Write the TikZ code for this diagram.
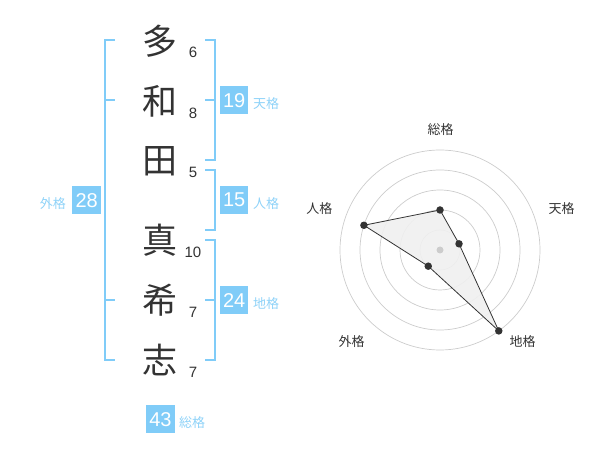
\documentclass[tikz,border=0pt]{standalone}
\usepackage{fontspec}
\setmainfont{Liberation Sans}
\newfontfamily\jp{Noto Sans CJK JP}
\definecolor{kblue}{HTML}{80CCF8}
\definecolor{klabel}{HTML}{8ED2F8}
\definecolor{kdark}{HTML}{333333}
\definecolor{kring}{HTML}{CCCCCC}
\begin{document}
\begin{tikzpicture}[x=1pt,y=-1pt,
  kanji/.style={font=\jp\fontsize{35}{35}\selectfont,text=kdark,inner sep=0pt},
  strokes/.style={font=\fontsize{15}{15}\selectfont,text=kdark,inner sep=0pt},
  scorebox/.style={fill=kblue,text=white,minimum width=28.5pt,minimum height=28.5pt,inner sep=0pt,font=\fontsize{20}{20}\selectfont},
  scorelabel/.style={font=\jp\fontsize{13}{13}\selectfont,text=klabel,inner sep=0pt},
  bracket/.style={draw=kblue,line width=2pt},
  ring/.style={draw=kring,line width=0.7pt},
  radarlabel/.style={font=\jp\fontsize{13}{13}\selectfont,text=kdark,inner sep=0pt},
  dot/.style={circle,fill=kdark,inner sep=0pt,minimum size=7.5pt}]
\useasboundingbox (0,0) rectangle (600,470);
% name characters
\node[kanji] (c1) at (160,41) {多};
\node[kanji] (c2) at (160,101) {和};
\node[kanji] (c3) at (160,161) {田};
\node[kanji] (c4) at (160,240) {真};
\node[kanji] (c5) at (160,300) {希};
\node[kanji] (c6) at (160,360) {志};
% stroke counts
\node[strokes] (s1) at (193,52.5) {6};
\node[strokes] (s2) at (193,113) {8};
\node[strokes] (s3) at (193,172.5) {5};
\node[strokes] (s4) at (193,252.5) {10};
\node[strokes] (s5) at (193,312.5) {7};
\node[strokes] (s6) at (193,372.5) {7};
% right brackets
\draw[bracket] (205,40) -- (215,40) -- (215,160) -- (205,160);
\draw[bracket] (205,100) -- (215,100);
\draw[bracket] (205,170) -- (215,170) -- (215,230) -- (205,230);
\draw[bracket] (205,240) -- (215,240) -- (215,360) -- (205,360);
\draw[bracket] (205,300) -- (215,300);
% left bracket
\draw[bracket] (115,40) -- (105,40) -- (105,360) -- (115,360);
\draw[bracket] (105,100) -- (115,100);
\draw[bracket] (105,300) -- (115,300);
% score boxes
\node[scorebox] (ten) at (234.2,100.2) {19};
\node[scorelabel,anchor=west] (tenl) at (253,104) {天格};
\node[scorebox] (jin) at (234.2,200.2) {15};
\node[scorelabel,anchor=west] (jinl) at (253,204) {人格};
\node[scorebox] (chi) at (234.2,300.2) {24};
\node[scorelabel,anchor=west] (chil) at (253,304) {地格};
\node[scorebox] (gai) at (86.7,200.2) {28};
\node[scorelabel,anchor=east] (gail) at (66,204) {外格};
\node[scorebox] (sou) at (160.5,419.2) {43};
\node[scorelabel,anchor=west] (soul) at (179,422.5) {総格};
% radar
\coordinate (o) at (440,250);
\foreach \r in {20,40,60,80,100} \draw[ring] (o) circle[radius=\r];
\coordinate (p1) at ([shift={(440,250)}] -90:40);
\coordinate (p2) at ([shift={(440,250)}] -18:20);
\coordinate (p3) at ([shift={(440,250)}] 54:100);
\coordinate (p4) at ([shift={(440,250)}] 126:20);
\coordinate (p5) at ([shift={(440,250)}] 198:80);
\filldraw[fill=black!6,fill opacity=0.9,draw=kdark,line width=0.8pt] (p1) -- (p2) -- (p3) -- (p4) -- (p5) -- cycle;
\fill[kring] (o) circle[radius=3.5];
\foreach \p in {p1,p2,p3,p4,p5} \node[dot] at (\p) {};
\node[radarlabel] (l1) at (440.7,130) {総格};
\node[radarlabel] (l2) at (561.7,208.3) {天格};
\node[radarlabel] (l3) at (522.7,341.7) {地格};
\node[radarlabel] (l4) at (351.7,341.7) {外格};
\node[radarlabel] (l5) at (319.3,208.3) {人格};
\end{tikzpicture}
\end{document}
